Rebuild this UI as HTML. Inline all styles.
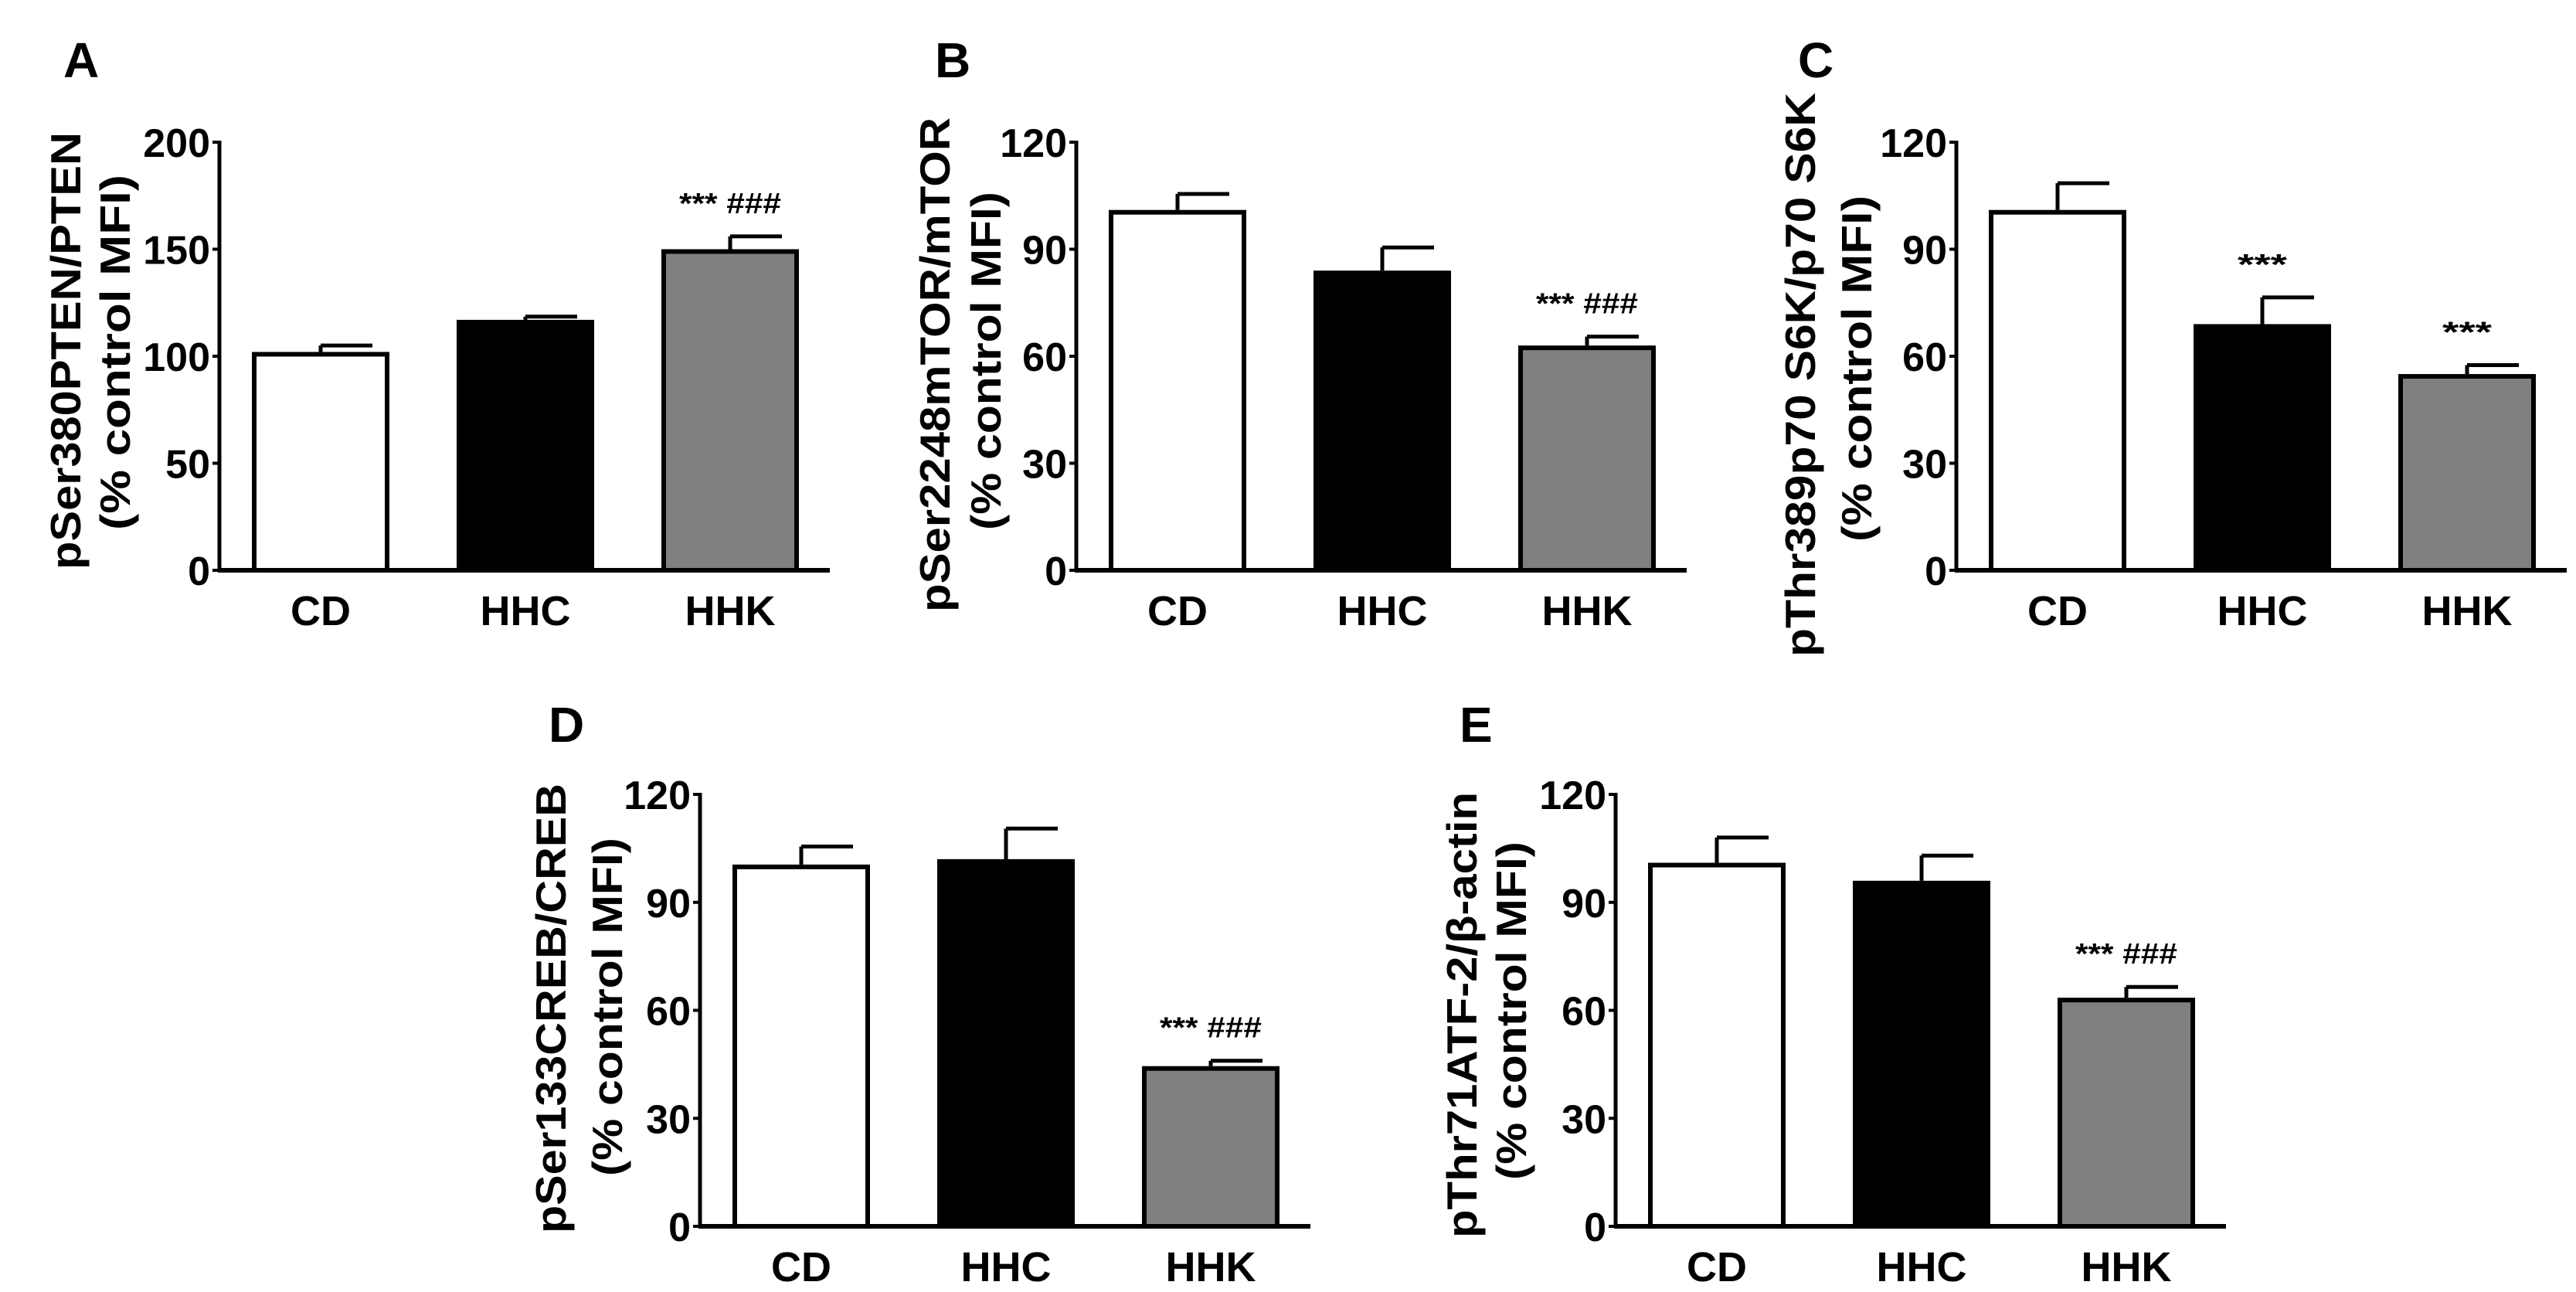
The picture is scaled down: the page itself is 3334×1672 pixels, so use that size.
<!DOCTYPE html>
<html><head><meta charset="utf-8"><style>
html,body{margin:0;padding:0;background:#fff;}
svg{display:block;font-family:"Liberation Sans",Arial,sans-serif;font-weight:bold;}
</style></head><body>
<svg id="fig" width="3334" height="1672" viewBox="0 0 3334 1672"></svg>
<script>
const categories = ["CD","HHC","HHK"];
const fills = ["#ffffff","#000000","#808080"];
const valuesA = [102, 117, 150];
const errorsA = [3, 1.5, 6];
const valuesB = [101, 84, 63];
const errorsB = [4.5, 6.5, 2.5];
const valuesC = [101, 69, 55];
const errorsC = [7.5, 7.5, 2.5];
const valuesD = [100.5, 102, 44.5];
const errorsD = [5, 8.5, 1.5];
const valuesE = [101, 96, 63.5];
const errorsE = [7, 7, 3];
const ticksA = [0, 50, 100, 150, 200];
const ticks120 = [0, 30, 60, 90, 120];
const annotA = ["", "", "*** ###"];
const annotB = ["", "", "*** ###"];
const annotC = ["", "***", "***"];
const annotD = ["", "", "*** ###"];
const annotE = ["", "", "*** ###"];

const NS = "http://www.w3.org/2000/svg";
const svg = document.getElementById("fig");
function mk(tag, attrs, parent) {
  const e = document.createElementNS(NS, tag);
  for (const k in attrs) e.setAttribute(k, attrs[k]);
  (parent || svg).appendChild(e);
  return e;
}

const panels = [
  {id:"a", letter:"A", lx:82, ly:100, ax:284, top:184, bot:738, max:200, ticks:ticksA, vals:valuesA, errs:errorsA, ann:annotA,
   t1:"pSer380PTEN/PTEN", t1x:85, t1y0:171, t1y1:737, t2:"(% control MFI)", t2x:149, t2y0:226, t2y1:686},
  {id:"b", letter:"B", lx:1210, ly:100, ax:1393, top:184, bot:738, max:120, ticks:ticks120, vals:valuesB, errs:errorsB, ann:annotB,
   t1:"pSer2248mTOR/mTOR", t1x:1210, t1y0:152, t1y1:792, t2:"(% control MFI)", t2x:1276, t2y0:248, t2y1:686},
  {id:"c", letter:"C", lx:2327, ly:100, ax:2532, top:184, bot:738, max:120, ticks:ticks120, vals:valuesC, errs:errorsC, ann:annotC,
   t1:"pThr389p70 S6K/p70 S6K", t1x:2330, t1y0:120, t1y1:850, t2:"(% control MFI)", t2x:2403, t2y0:253, t2y1:701},
  {id:"d", letter:"D", lx:710, ly:960, ax:906, top:1028, bot:1587, max:120, ticks:ticks120, vals:valuesD, errs:errorsD, ann:annotD,
   t1:"pSer133CREB/CREB", t1x:713, t1y0:1014, t1y1:1596, t2:"(% control MFI)", t2x:786, t2y0:1084, t2y1:1522},
  {id:"e", letter:"E", lx:1889, ly:960, ax:2091, top:1028, bot:1587, max:120, ticks:ticks120, vals:valuesE, errs:errorsE, ann:annotE,
   t1:"pThr71ATF-2/β-actin", t1x:1892, t1y0:1025, t1y1:1602, t2:"(% control MFI)", t2x:1956, t2y0:1089, t2y1:1527}
];

const plotW = 790, barOff = 42, barW = 178, pitch = 265;

panels.forEach(p => {
  const g = mk("g", {});
  
  
  const yS = v => p.bot - (v / p.max) * (p.bot - p.top);
  const xS = i => p.ax + barOff + i * pitch;

  const L = mk("text", {x:p.lx, y:p.ly, "font-size":64, fill:"#000"}, g);
  L.textContent = p.letter;
  
  

  [[p.t1, p.t1x, p.t1y0, p.t1y1, 'y-axis-title'], [p.t2, p.t2x, p.t2y0, p.t2y1, 'y-axis-unit']].forEach(t => {
    const cy = (t[2] + t[3]) / 2, bx = t[1] + 19;
    const tt = mk("text", {x:0, y:0, "font-size":55, "text-anchor":"middle", textLength:(t[3]-t[2]), lengthAdjust:"spacingAndGlyphs",
      transform:`translate(${bx},${cy}) rotate(-90)`, fill:"#000"}, g);
    tt.textContent = t[0];
    
    
  });

  p.vals.forEach((v, i) => {
    const x = xS(i), y = yS(v);
    const eb = mk("line", {x1:x+barW/2, x2:x+barW/2, y1:y, y2:yS(v + p.errs[i]), stroke:"#000", "stroke-width":5}, g);
    
    
    const cap = mk("line", {x1:x+barW/2, x2:x+barW/2+67, y1:yS(v + p.errs[i]), y2:yS(v + p.errs[i]), stroke:"#000", "stroke-width":5}, g);
    
    
    const r = mk("rect", {x:x+3, y:y+3, width:barW-6, height:p.bot - y - 3, fill:fills[i], stroke:"#000", "stroke-width":6}, g);
    
    
    if (p.ann[i]) {
      const a = mk("text", {x:x+barW/2, y:yS(v + p.errs[i]) - 30, "font-size":38, "text-anchor":"middle", fill:"#000",
        textLength: p.ann[i].length > 3 ? 132 : 64, lengthAdjust:"spacingAndGlyphs"}, g);
      a.textContent = p.ann[i];
      
      
    }
    const cl = mk("text", {x:x+barW/2, y:p.bot+71, "font-size":54, "text-anchor":"middle", fill:"#000"}, g);
    cl.textContent = categories[i];
    
    
  });

  const ya = mk("line", {x1:p.ax, x2:p.ax, y1:p.top-2, y2:p.bot+2, stroke:"#000", "stroke-width":5}, g);
  
  
  const xa = mk("line", {x1:p.ax-2, x2:p.ax+plotW, y1:p.bot, y2:p.bot, stroke:"#000", "stroke-width":6}, g);
  
  
  p.ticks.forEach(t => {
    const y = yS(t);
    const tk = mk("line", {x1:p.ax-9, x2:p.ax, y1:y, y2:y, stroke:"#000", "stroke-width":4}, g);
    
    
    const tl = mk("text", {x:p.ax-12, y:y+19, "font-size":52, "text-anchor":"end", fill:"#000"}, g);
    tl.textContent = t;
    
    
  });
});
</script>
</body></html>
